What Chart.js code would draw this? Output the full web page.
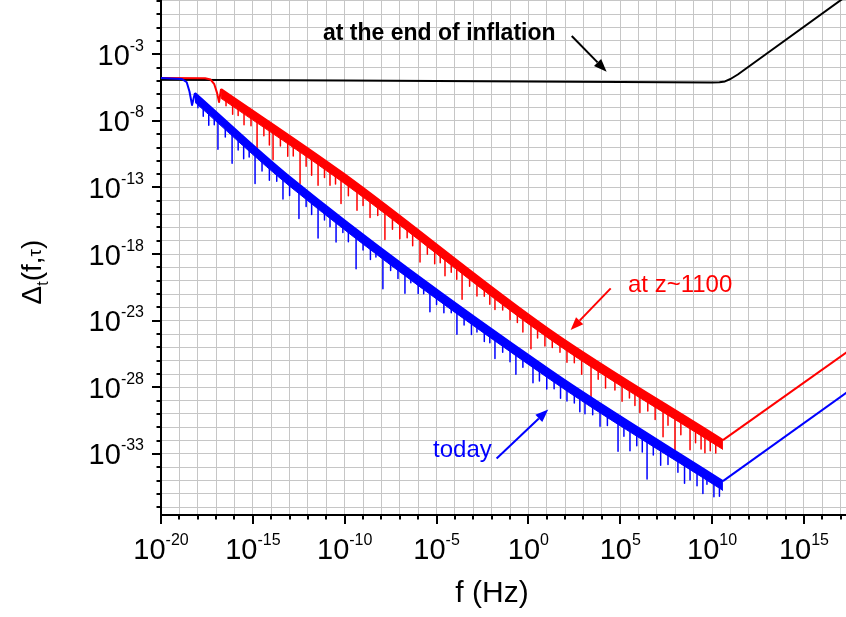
<!DOCTYPE html>
<html><head><meta charset="utf-8">
<script src="https://cdn.jsdelivr.net/npm/chart.js@4/dist/chart.umd.min.js"></script>
<style>html,body{margin:0;padding:0;background:#fff}#wrap{width:846px;height:617px}</style>
</head><body><div id="wrap"><canvas id="c" width="846" height="617"></canvas></div>
<script>
// All values are log10 exponents: x = log10(f / Hz), y = log10(Delta_t)
const xLabelExps = [-20,-15,-10,-5,0,5,10,15];
const yLabelExps = [-33,-28,-23,-18,-13,-8,-3];

// "at the end of inflation"
const blackX = [-20, -10, 0, 10.0, 10.4, 10.7, 11.0, 11.4, 18];
const blackY = [-4.92, -4.98, -5.05, -5.12, -5.11, -5.04, -4.86, -4.52, 2.05];

// "at z~1100": flat part + first drop, envelope of the oscillating part, rise after the knee
const redHeadX = [-20, -17.6, -17.3, -17.1, -16.95, -16.84, -16.73];
const redHeadY = [-4.79, -4.80, -4.90, -5.25, -5.9, -6.59, -5.61];
const redBandX = [-16.73, -10.09, 1.18, 10.59];
const redBandTop = [-5.61, -11.92, -23.70, -31.96];
const redBandLow = [-6.31, -12.62, -24.40, -32.66];
const redTailX = [10.59, 17.6];
const redTailY = [-31.96, -25.1];
const redSpikeX = [-16.46,-16.1,-15.8,-15.48,-15.1,-14.77,-14.4,-14.1,-13.9,-13.5,-13.1,-12.8,-12.43,-12.1,-11.8,-11.45,-11.1,-10.8,-10.5,-10.2,
  -9.8,-9.33,-9.0,-8.62,-8.2,-7.81,-7.4,-7.0,-6.6,-6.3,-5.9,-5.5,-5.1,-4.8,-4.54,-4.2,-3.9,-3.61,-3.2,-2.8,-2.4,-2.1,-1.82,-1.4,-1.0,-0.6,-0.3,0.14,0.5,0.9,
  1.3,1.72,2.1,2.5,2.9,3.41,3.8,4.2,4.71,5.1,5.5,5.8,6.07,6.5,6.9,7.33,7.6,7.98,8.3,8.8,9.1,9.4,9.61,9.9,10.2];
const redSpikeTop = [-6.17,-6.51,-6.79,-7.10,-7.46,-7.77,-8.12,-8.41,-8.60,-8.98,-9.36,-9.64,-10.00,-10.31,-10.59,-10.93,-11.26,-11.54,-11.83,-12.11,
  -12.52,-13.01,-13.36,-13.76,-14.20,-14.60,-15.03,-15.45,-15.87,-16.18,-16.60,-17.02,-17.43,-17.75,-18.02,-18.37,-18.69,-18.99,-19.42,-19.84,-20.26,-20.57,-20.86,-21.30,-21.72,-22.14,-22.45,-22.91,-23.29,-23.70,
  -24.11,-24.47,-24.81,-25.16,-25.51,-25.96,-26.30,-26.65,-27.10,-27.44,-27.79,-28.06,-28.29,-28.67,-29.02,-29.40,-29.64,-29.97,-30.25,-30.69,-30.95,-31.22,-31.40,-31.66,-31.92];
const redSpikeLow = [-6.87,-7.51,-7.59,-8.30,-8.36,-10.17,-9.12,-9.81,-10.90,-9.88,-10.66,-10.64,-12.70,-11.41,-12.09,-12.83,-12.26,-12.84,-12.73,-14.21,
  -13.62,-14.71,-14.36,-15.26,-15.10,-16.90,-16.13,-16.85,-16.77,-17.38,-18.60,-18.02,-18.73,-18.65,-19.62,-19.37,-19.89,-21.39,-20.42,-21.14,-21.16,-21.77,-22.16,-22.20,-22.92,-23.14,-23.85,-25.11,-24.29,-24.90,
  -25.01,-25.37,-26.11,-26.16,-27.01,-28.81,-27.40,-28.05,-28.20,-29.04,-28.79,-29.36,-29.89,-29.77,-30.42,-31.70,-30.84,-33.17,-31.55,-32.69,-32.15,-32.62,-32.90,-32.76,-32.92];

// "today"
const blueHeadX = [-20, -18.86, -18.6, -18.45, -18.31, -18.15];
const blueHeadY = [-4.79, -4.86, -5.1, -5.8, -6.81, -5.91];
const blueBandX = [-18.15, -12.98, 1.18, 10.59];
const blueBandTop = [-5.91, -12.22, -26.71, -35.04];
const blueBandLow = [-6.61, -12.92, -27.41, -35.74];
const blueTailX = [10.59, 17.6];
const blueTailY = [-35.04, -28.12];
const blueSpikeX = [-17.99,-17.7,-17.4,-17.1,-16.9,-16.5,-16.13,-15.8,-15.5,-15.2,-14.88,-14.5,-14.1,-13.7,-13.36,-13.0,
  -12.49,-12.1,-11.8,-11.45,-11.1,-10.8,-10.47,-10.1,-9.8,-9.38,-9.0,-8.6,-8.3,-7.92,-7.5,-7.1,-6.72,-6.4,-6.0,-5.7,-5.36,-5.0,-4.6,-4.2,-3.89,-3.5,-3.1,-2.8,-2.4,-2.1,-1.82,-1.4,-1.0,-0.68,-0.3,0.25,0.6,1.0,
  1.4,1.75,2.1,2.5,2.8,3.08,3.5,3.9,4.3,4.88,5.2,5.53,5.9,6.2,6.46,6.8,7.2,7.6,8.14,8.5,8.8,9.18,9.5,9.72,10.1,10.4];
const blueSpikeTop = [-6.41,-6.76,-7.13,-7.49,-7.74,-8.22,-8.68,-9.08,-9.44,-9.81,-10.20,-10.66,-11.15,-11.64,-12.06,-12.50,
  -13.02,-13.42,-13.73,-14.09,-14.44,-14.75,-15.09,-15.47,-15.77,-16.20,-16.59,-17.00,-17.31,-17.70,-18.13,-18.54,-18.93,-19.25,-19.66,-19.97,-20.32,-20.69,-21.10,-21.50,-21.82,-22.22,-22.63,-22.94,-23.35,-23.65,-23.94,-24.37,-24.78,-25.11,-25.50,-26.06,-26.42,-26.83,
  -27.20,-27.51,-27.82,-28.18,-28.44,-28.69,-29.06,-29.42,-29.77,-30.29,-30.57,-30.86,-31.19,-31.45,-31.68,-31.98,-32.34,-32.69,-33.17,-33.49,-33.76,-34.09,-34.37,-34.57,-34.91,-35.17];
const blueSpikeLow = [-7.01,-7.66,-8.33,-8.29,-10.14,-9.22,-11.18,-10.18,-10.84,-10.71,-12.70,-11.76,-12.45,-12.54,-13.86,-13.60,
  -15.32,-14.42,-15.03,-16.79,-15.44,-15.95,-17.09,-16.37,-17.07,-19.10,-17.69,-18.40,-18.21,-20.60,-19.23,-19.84,-20.93,-20.15,-20.96,-20.97,-22.32,-21.79,-22.40,-22.40,-24.02,-23.32,-24.03,-23.84,-24.55,-24.65,-25.84,-25.37,-26.08,-27.01,-26.50,-27.66,-27.52,-28.13,
  -28.10,-28.81,-29.02,-29.18,-29.84,-29.99,-30.06,-30.92,-30.87,-32.79,-31.67,-32.76,-32.39,-32.85,-34.88,-33.08,-33.84,-33.79,-34.37,-35.19,-34.96,-35.39,-35.97,-35.27,-36.21,-36.17];

const xMin = -20, xMax = 17.29, yMin = -37.58, yMax = 1.07;

const FONT = '"Liberation Sans", Arial, sans-serif';
const RED = '#ff0000', BLUE = '#0000ff';

const pts = (X, Y) => X.map((x, i) => ({x, y: Y[i]}));
function spikes(X, T, B) {
  const d = [];
  X.forEach((x, i) => { d.push({x, y: T[i]}, {x, y: B[i]}, {x, y: null}); });
  return d;
}
const line = (data, color, w, extra) => Object.assign({data, borderColor: color, backgroundColor: color, borderWidth: w, pointRadius: 0, fill: false, tension: 0}, extra || {});
const smooth = {cubicInterpolationMode: 'monotone'};

const notes = [
  {text: 'at the end of inflation', color: '#000', bold: true, size: 23, x: -11.18, y: -1.93, ax: [2.36, -1.63, 4.26, -4.31]},
  {text: 'at z~1100', color: RED, bold: false, size: 24, x: 5.42, y: -20.85, ax: [4.48, -20.57, 2.30, -23.70]},
  {text: 'today', color: BLUE, bold: false, size: 24, x: -5.19, y: -33.24, ax: [-1.73, -33.34, 1.08, -29.66]}
];

function drawPow(ctx, exp, x, base, align) {
  const bf = '29px ' + FONT, sf = '16px ' + FONT;
  ctx.font = bf; const w1 = ctx.measureText('10').width;
  ctx.font = sf; const w2 = ctx.measureText(String(exp)).width;
  const x0 = align === 'center' ? x - (w1 + w2) / 2 : x - (w1 + w2);
  ctx.font = bf; ctx.fillText('10', x0, base);
  ctx.font = sf; ctx.fillText(String(exp), x0 + w1, base - 14);
}

const deco = {
  id: 'deco',
  afterDraw(chart) {
    const ctx = chart.ctx, sx = chart.scales.x, sy = chart.scales.y, ca = chart.chartArea;
    ctx.save();
    ctx.strokeStyle = '#000'; ctx.lineWidth = 2; ctx.lineCap = 'butt';
    for (let v = Math.ceil(xMin); v <= xMax; v++) {
      const p = Math.round(sx.getPixelForValue(v));
      const L = (v % 5 === 0) ? 9 : 4.5;
      ctx.beginPath(); ctx.moveTo(p, ca.bottom); ctx.lineTo(p, ca.bottom + L); ctx.stroke();
    }
    for (let v = Math.ceil(yMin); v <= yMax; v++) {
      const p = Math.round(sy.getPixelForValue(v));
      const L = ((v + 3) % 5 === 0) ? 9 : 4.5;
      ctx.beginPath(); ctx.moveTo(ca.left, p); ctx.lineTo(ca.left - L, p); ctx.stroke();
    }
    ctx.fillStyle = '#000'; ctx.textAlign = 'left'; ctx.textBaseline = 'alphabetic';
    xLabelExps.forEach(e => drawPow(ctx, e, sx.getPixelForValue(e), ca.bottom + 44, 'center'));
    yLabelExps.forEach(e => drawPow(ctx, e, ca.left - 17, sy.getPixelForValue(e) + 10.5, 'right'));

    // axis titles
    ctx.font = '30px ' + FONT; ctx.textAlign = 'center';
    ctx.fillText('f (Hz)', 492, 602);
    ctx.save();
    ctx.translate(31, 272); ctx.rotate(-Math.PI / 2);
    const parts = [['\u0394', 28, 0], ['t', 16, 7], ['(f,', 28, 0], ['\u03c4', 19, 0], [')', 28, 0]];
    let tot = 0;
    parts.forEach(p => { ctx.font = p[1] + 'px ' + FONT; tot += ctx.measureText(p[0]).width; });
    let cx = -tot / 2; ctx.textAlign = 'left';
    parts.forEach(p => { ctx.font = p[1] + 'px ' + FONT; ctx.fillText(p[0], cx, 10 + p[2]); cx += ctx.measureText(p[0]).width; });
    ctx.restore();

    // annotations
    notes.forEach(n => {
      ctx.fillStyle = n.color; ctx.strokeStyle = n.color;
      ctx.font = (n.bold ? 'bold ' : '') + n.size + 'px ' + FONT; ctx.textAlign = 'left';
      ctx.fillText(n.text, sx.getPixelForValue(n.x), sy.getPixelForValue(n.y));
      const x1 = sx.getPixelForValue(n.ax[0]), y1 = sy.getPixelForValue(n.ax[1]);
      const x2 = sx.getPixelForValue(n.ax[2]), y2 = sy.getPixelForValue(n.ax[3]);
      const a = Math.atan2(y2 - y1, x2 - x1), hl = 13, hw = 5;
      const bx = x2 - hl * Math.cos(a), by = y2 - hl * Math.sin(a);
      ctx.lineWidth = 2;
      ctx.beginPath(); ctx.moveTo(x1, y1); ctx.lineTo(bx, by); ctx.stroke();
      ctx.beginPath(); ctx.moveTo(x2, y2);
      ctx.lineTo(bx + hw * Math.sin(a), by - hw * Math.cos(a));
      ctx.lineTo(bx - hw * Math.sin(a), by + hw * Math.cos(a));
      ctx.closePath(); ctx.fill();
    });
    ctx.restore();
  }
};

const ints = (a, b) => { const r = []; for (let v = Math.ceil(a); v <= b; v++) r.push({value: v}); return r; };

new Chart(document.getElementById('c'), {
  type: 'line',
  data: {
    datasets: [
      line(pts(blueHeadX, blueHeadY), BLUE, 2),
      line(pts(blueBandX, blueBandTop), BLUE, 2, smooth),
      line(pts(blueBandX, blueBandLow), BLUE, 1, Object.assign({fill: '-1'}, smooth)),
      line(pts(blueTailX, blueTailY), BLUE, 2),
      line(spikes(blueSpikeX, blueSpikeTop, blueSpikeLow), BLUE, 1.5),
      line(pts(redHeadX, redHeadY), RED, 2),
      line(pts(redBandX, redBandTop), RED, 2, smooth),
      line(pts(redBandX, redBandLow), RED, 1, Object.assign({fill: '-1'}, smooth)),
      line(pts(redTailX, redTailY), RED, 2),
      line(spikes(redSpikeX, redSpikeTop, redSpikeLow), RED, 1.5),
      line(pts(blackX, blackY), '#000', 2)
    ]
  },
  options: {
    responsive: false, animation: false,
    layout: {padding: 0},
    plugins: {legend: {display: false}, tooltip: {enabled: false}},
    elements: {line: {borderJoinStyle: 'round'}},
    scales: {
      x: {
        type: 'linear', min: xMin, max: xMax,
        afterBuildTicks: s => { s.ticks = ints(xMin, xMax); },
        afterFit: s => { s.height = 102; },
        ticks: {display: false},
        grid: {color: '#c6c6c6', lineWidth: 1, drawTicks: false},
        border: {display: true, color: '#000', width: 2}
      },
      y: {
        type: 'linear', min: yMin, max: yMax,
        afterBuildTicks: s => { s.ticks = ints(yMin, yMax); },
        afterFit: s => { s.width = 161; },
        ticks: {display: false},
        grid: {color: '#c6c6c6', lineWidth: 1, drawTicks: false},
        border: {display: true, color: '#000', width: 2}
      }
    }
  },
  plugins: [deco]
});
</script>
</body></html>
